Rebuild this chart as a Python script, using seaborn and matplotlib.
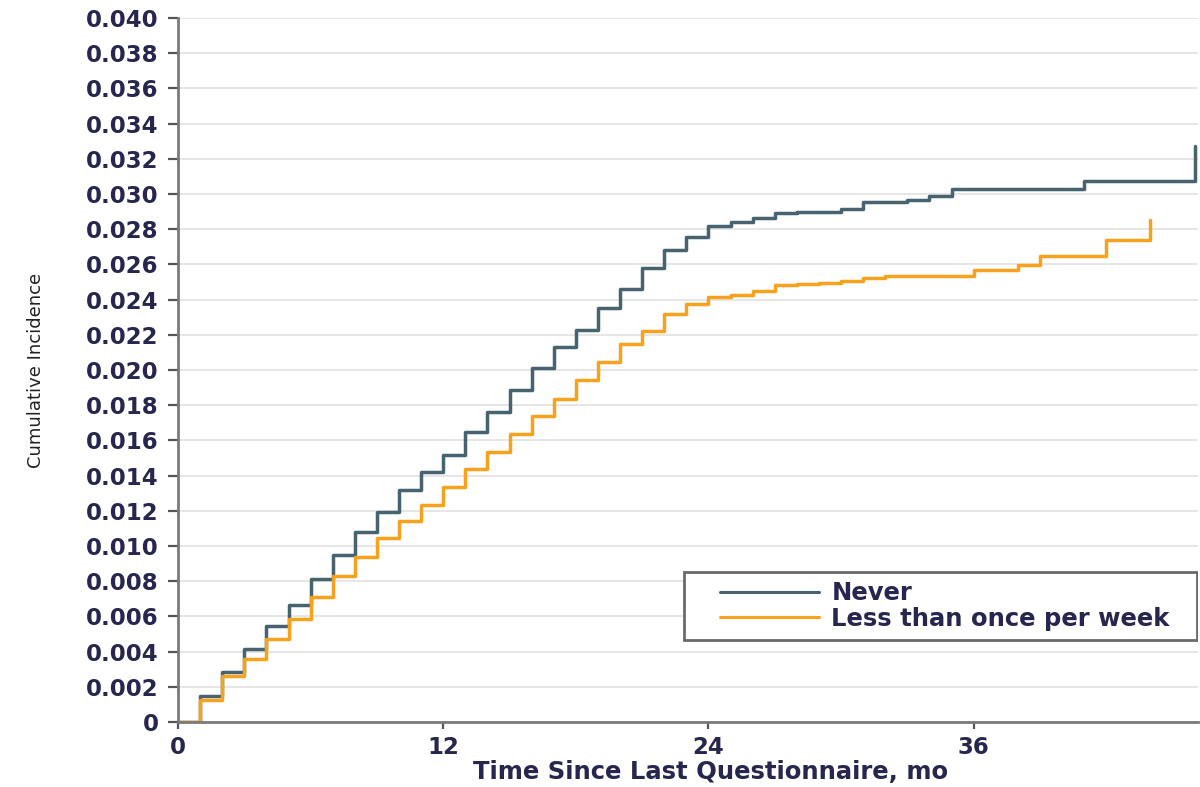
import matplotlib
matplotlib.use("Agg")
import matplotlib.pyplot as plt
import seaborn as sns
import pandas as pd
from matplotlib.lines import Line2D
from matplotlib.patches import Rectangle

# ---- data ----
never_months = [0, 1, 2, 3, 4, 5, 6, 7, 8, 9, 10, 11, 12, 13, 14, 15, 16, 17, 18, 19,
                20, 21, 22, 23, 24, 25, 26, 27, 28, 30, 31, 33, 34, 35, 41, 46]
never_cuminc = [0.0, 0.00147, 0.00284, 0.00412, 0.00543, 0.00662, 0.00814, 0.00948,
                0.01077, 0.01194, 0.01321, 0.01422, 0.01517, 0.01645, 0.01759, 0.01886,
                0.02009, 0.02130, 0.02230, 0.02353, 0.02461, 0.02580, 0.02683, 0.02755,
                0.02817, 0.02840, 0.02863, 0.02893, 0.02899, 0.02916, 0.02955, 0.02967,
                0.02988, 0.03030, 0.03073, 0.03272]

less_months = [0, 1, 2, 3, 4, 5, 6, 7, 8, 9, 10, 11, 12, 13, 14, 15, 16, 17, 18, 19,
               20, 21, 22, 23, 24, 25, 26, 27, 28, 29, 30, 31, 32, 36, 38, 39, 42, 44]
less_cuminc = [0.0, 0.00123, 0.00261, 0.00359, 0.00473, 0.00586, 0.00710, 0.00832,
               0.00938, 0.01043, 0.01141, 0.01232, 0.01336, 0.01437, 0.01536, 0.01634,
               0.01740, 0.01833, 0.01945, 0.02046, 0.02148, 0.02224, 0.02320, 0.02377,
               0.02413, 0.02425, 0.02447, 0.02481, 0.02489, 0.02497, 0.02508, 0.02520,
               0.02536, 0.02571, 0.02599, 0.02650, 0.02736, 0.02855]

group_labels = ["Never", "Less than once per week"]
x_ticks = [0, 12, 24, 36]
y_ticks = [i * 0.002 for i in range(21)]
y_tick_labels = ["0"] + [f"{v:.3f}" for v in y_ticks[1:]]

df = pd.concat([
    pd.DataFrame({"month": never_months, "cuminc": never_cuminc, "group": group_labels[0]}),
    pd.DataFrame({"month": less_months, "cuminc": less_cuminc, "group": group_labels[1]}),
], ignore_index=True)

# ---- style ----
sns.set_theme(style="white")
plt.rcParams["font.family"] = ["DejaVu Sans"]

text_color = "#26264e"
palette = {group_labels[0]: "#46636f", group_labels[1]: "#f7a21c"}

fig = plt.figure(figsize=(12, 7.87), dpi=100)
ax = fig.add_axes([178 / 1200, 1 - 722 / 787, 1020 / 1200, 704 / 787])

sns.lineplot(data=df, x="month", y="cuminc", hue="group", hue_order=group_labels,
             palette=palette, estimator=None, sort=False, drawstyle="steps-post",
             linewidth=2.5, legend=False, ax=ax)

ax.set_xlim(0, 46.15)
ax.set_ylim(0, 0.040)
ax.set_xticks(x_ticks)
ax.set_xticklabels([str(t) for t in x_ticks])
ax.set_yticks(y_ticks)
ax.set_yticklabels(y_tick_labels)

for lab in ax.get_xticklabels() + ax.get_yticklabels():
    lab.set_fontweight("bold")
    lab.set_fontsize(16.5)
    lab.set_color(text_color)

ax.yaxis.grid(True, color="#e6e6e6", linewidth=1.4)
ax.xaxis.grid(False)
ax.set_axisbelow(True)

for s in ["top", "right"]:
    ax.spines[s].set_visible(False)
for s in ["left", "bottom"]:
    ax.spines[s].set_color("#7a7a7a")
    ax.spines[s].set_linewidth(2.0)

ax.tick_params(axis="y", which="major", direction="out", length=7.5, width=1.6,
               color="#555555", left=True, pad=6.5)
ax.tick_params(axis="x", which="major", direction="out", length=5, width=1.6,
               color="#555555", bottom=True, pad=5)

ax.set_xlabel("Time Since Last Questionnaire, mo", fontsize=17.5, fontweight="bold",
              color=text_color)
ax.xaxis.set_label_coords((711 - 178) / 1020, -0.054)
ax.set_ylabel("Cumulative Incidence", fontsize=13, color="#222222")
ax.yaxis.set_label_coords(-0.13, 0.5)

# legend frame box (in axes coordinates)
box = Rectangle((0.496, 0.1165), 0.503, 0.0966, transform=ax.transAxes,
                facecolor="white", edgecolor="#6a6a6a", linewidth=2.0, zorder=5)
ax.add_patch(box)

handles = [Line2D([], [], color=palette[g], linewidth=2.2) for g in group_labels]
leg = ax.legend(handles, group_labels, loc="center left",
                bbox_to_anchor=(0.531, 0.1648), frameon=False, fontsize=17.5,
                handlelength=4.1, handletextpad=0.5, labelspacing=0.08,
                borderpad=0.0, borderaxespad=0.0)
leg.set_zorder(6)
for t in leg.get_texts():
    t.set_color(text_color)
    t.set_fontweight("bold")

fig.savefig("out.png", dpi=100)
